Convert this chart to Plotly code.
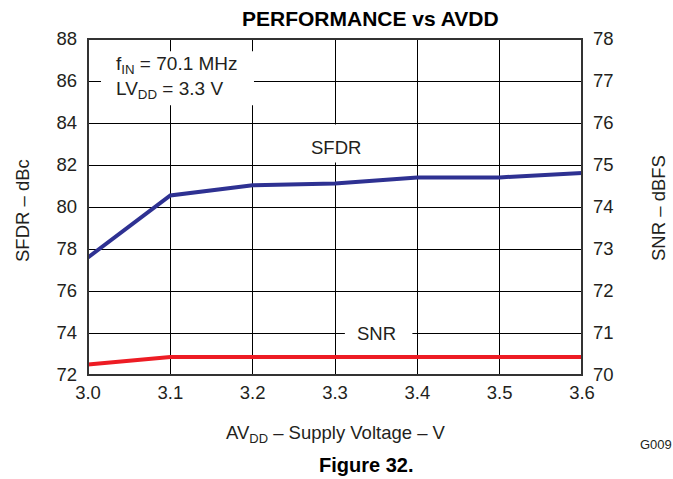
import plotly.graph_objects as go

# ---- data ----
avdd = [3.0, 3.1, 3.2, 3.3, 3.4, 3.5, 3.6]
sfdr_dbc = [77.6, 80.55, 81.03, 81.12, 81.41, 81.41, 81.62]
snr_dbfs = [70.25, 70.43, 70.43, 70.43, 70.43, 70.43, 70.43]
x_ticks = [3.0, 3.1, 3.2, 3.3, 3.4, 3.5, 3.6]
left_ticks = [72, 74, 76, 78, 80, 82, 84, 86, 88]
right_ticks = [70, 71, 72, 73, 74, 75, 76, 77, 78]

FONT = "Liberation Sans, Arial, sans-serif"
TXT = "#231F20"

fig = go.Figure()
fig.add_trace(go.Scatter(x=avdd, y=sfdr_dbc, mode="lines",
                         line=dict(color="#2E3192", width=4), yaxis="y", showlegend=False))
fig.add_trace(go.Scatter(x=avdd, y=snr_dbfs, mode="lines",
                         line=dict(color="#ED1C24", width=4), yaxis="y2", showlegend=False))

W, H = 673, 479
# plot area in page pixels: x 88..582, y 39..375
L = 88
T = 39
R = W - 582
B = H - 375
PW = W - L - R
PH = H - T - B

def px(x):
    return (x - L) / PW

def py(y):
    return (H - B - y) / PH

# white label boxes (between grid and traces)
boxes = [
    (3.0158, 3.2016, 84.85, 87.42),
    (3.266, 3.336, 82.12, 83.93),
    (3.312, 3.394, 73.40, 74.62),
]
shapes = []
for x0, x1, y0, y1 in boxes:
    shapes.append(dict(type="rect", xref="x", yref="y", x0=x0, x1=x1, y0=y0, y1=y1,
                       fillcolor="white", line=dict(width=0), layer="between"))
# plot frame
shapes.append(dict(type="rect", xref="paper", yref="paper", x0=0, x1=1, y0=0, y1=1,
                   line=dict(color="#333333", width=2), layer="above"))

def ann(text, x, y, size, **kw):
    d = dict(text=text, x=x, y=y, xref="paper", yref="paper", showarrow=False,
             xanchor="center", yanchor="middle",
             font=dict(size=size, color=kw.pop("color", TXT), family=FONT))
    d.update(kw)
    return d

annotations = [
    dict(text="f<sub>IN</sub> = 70.1 MHz<br>LV<sub>DD</sub> = 3.3 V", x=3.0315, y=86.17,
         xref="x", yref="y", xanchor="left", yanchor="middle", align="left",
         showarrow=False, font=dict(size=19, color=TXT, family=FONT)),
    dict(text="SFDR", x=3.301, y=82.82, xref="x", yref="y", showarrow=False,
         xanchor="center", yanchor="middle",
         font=dict(size=18.5, color=TXT, family=FONT)),
    dict(text="SNR", x=3.351, y=74.0, xref="x", yref="y", showarrow=False,
         xanchor="center", yanchor="middle",
         font=dict(size=18.5, color=TXT, family=FONT)),
    ann("<b>PERFORMANCE vs AVDD</b>", px(370), py(18), 21, color="black"),
    ann("AV<sub>DD</sub> – Supply Voltage – V", px(336), py(434), 18.5),
    ann("<b>Figure 32.</b>", px(366), py(465), 20, color="black"),
    ann("G009", px(656), py(444), 13),
    ann("SFDR – dBc", px(22), py(211), 18.5, textangle=-90),
    ann("SNR – dBFS", px(658), py(208), 18.5, textangle=-90),
]

fig.update_layout(
    width=W, height=H,
    margin=dict(l=L, r=R, t=T, b=B, pad=0),
    paper_bgcolor="white", plot_bgcolor="white",
    font=dict(family=FONT, size=18, color=TXT),
    hovermode=False,
    xaxis=dict(range=[3.0, 3.6], tickvals=x_ticks, ticktext=[f"{v:.1f}" for v in x_ticks],
               showgrid=True, gridcolor="black", gridwidth=1, zeroline=False,
               showline=False, ticks="", ticklen=0, tickfont=dict(size=18.5),
               ticklabelstandoff=4),
    yaxis=dict(range=[72, 88], tickvals=left_ticks, showgrid=True, gridcolor="black",
               gridwidth=1, zeroline=False, showline=False, ticks="", tickfont=dict(size=18.5),
               ticklabelstandoff=10),
    yaxis2=dict(range=[70, 78], tickvals=right_ticks, overlaying="y", side="right",
                showgrid=False, zeroline=False, showline=False, ticks="",
                tickfont=dict(size=18.5), ticklabelstandoff=10),
    shapes=shapes,
    annotations=annotations,
)

fig.write_html("out.html",
               config={"displayModeBar": False, "staticPlot": True},
               post_script="document.body.style.margin='0';"
                           "document.body.style.overflow='hidden';")
